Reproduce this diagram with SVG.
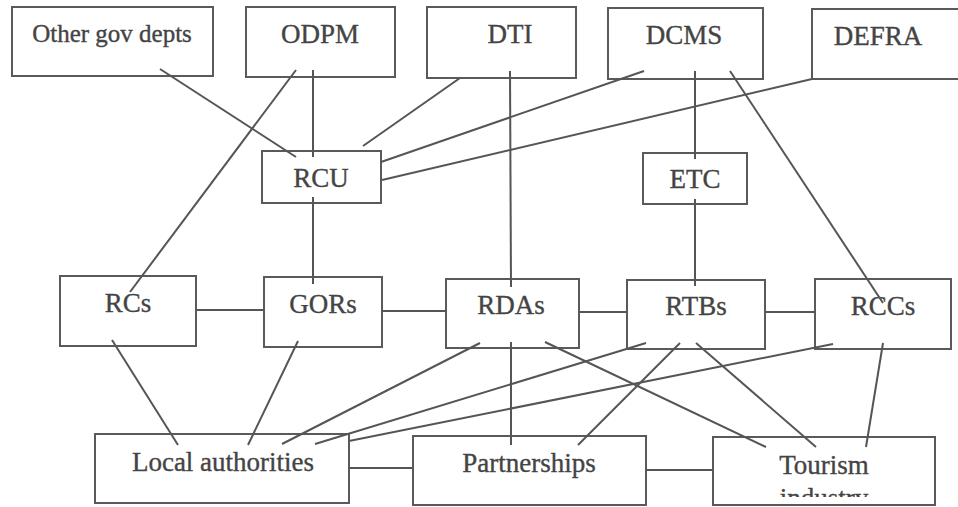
<svg xmlns="http://www.w3.org/2000/svg" width="958" height="507" viewBox="0 0 958 507">
<style>
.box{fill:#fff;stroke:#5a5a5a;stroke-width:2}
.lbl{font-family:"Liberation Serif","Times New Roman",serif;font-size:27px;fill:#444;stroke:#444;stroke-width:0.35;text-anchor:middle}
.con line{stroke:#555;stroke-width:2;fill:none}
</style>
<defs>
<clipPath id="tclip"><rect x="713" y="437" width="222" height="60"/></clipPath>
</defs>
<rect width="958" height="507" fill="#fff"/>
<g id="nodes">
<g id="other"><rect class="box" x="12" y="7" width="201" height="69"/><text class="lbl" x="112" y="42" style="font-size:25px">Other gov depts</text></g>
<g id="odpm"><rect class="box" x="246" y="7" width="149" height="70"/><text class="lbl" x="320" y="43">ODPM</text></g>
<g id="dti"><rect class="box" x="427" y="7" width="149" height="71"/><text class="lbl" x="510" y="43">DTI</text></g>
<g id="dcms"><rect class="box" x="608" y="8" width="155" height="71"/><text class="lbl" x="684" y="44">DCMS</text></g>
<g id="defra"><rect class="box" x="812" y="9" width="150" height="70"/><text class="lbl" x="878" y="45">DEFRA</text></g>
<g id="rcu"><rect class="box" x="262" y="151" width="119" height="52"/><text class="lbl" x="321" y="187">RCU</text></g>
<g id="etc"><rect class="box" x="643" y="153" width="104" height="51"/><text class="lbl" x="695" y="188">ETC</text></g>
<g id="rcs"><rect class="box" x="60" y="276" width="136" height="70"/><text class="lbl" x="128" y="312">RCs</text></g>
<g id="gors"><rect class="box" x="264" y="277" width="118" height="70"/><text class="lbl" x="323" y="313">GORs</text></g>
<g id="rdas"><rect class="box" x="446" y="279" width="133" height="69"/><text class="lbl" x="511" y="314">RDAs</text></g>
<g id="rtbs"><rect class="box" x="627" y="280" width="138" height="69"/><text class="lbl" x="696" y="315">RTBs</text></g>
<g id="rccs"><rect class="box" x="815" y="279" width="136" height="70"/><text class="lbl" x="883" y="315">RCCs</text></g>
<g id="local"><rect class="box" x="95" y="434" width="254" height="69"/><text class="lbl" x="223" y="471">Local authorities</text></g>
<g id="partnerships"><rect class="box" x="413" y="436" width="233" height="69"/><text class="lbl" x="529" y="472">Partnerships</text></g>
<g id="tourism"><rect class="box" x="713" y="437" width="222" height="68"/><text class="lbl" x="824" y="474">Tourism</text><text class="lbl" x="824" y="507" clip-path="url(#tclip)">industry</text></g>
</g>
<g id="connectors" class="con">
<line x1="160" y1="69" x2="296" y2="157"/>
<line x1="296" y1="70" x2="130" y2="292"/>
<line x1="313" y1="70" x2="313" y2="157"/>
<line x1="460" y1="78" x2="363" y2="146"/>
<line x1="644" y1="71" x2="381" y2="162"/>
<line x1="812" y1="79" x2="382" y2="180"/>
<line x1="510" y1="71" x2="511" y2="287"/>
<line x1="695" y1="71" x2="695" y2="159"/>
<line x1="730" y1="71" x2="883" y2="303"/>
<line x1="313" y1="197" x2="313" y2="284"/>
<line x1="695" y1="199" x2="695" y2="286"/>
<line x1="196" y1="310" x2="264" y2="310"/>
<line x1="382" y1="311" x2="446" y2="311"/>
<line x1="579" y1="312" x2="627" y2="312"/>
<line x1="765" y1="312" x2="815" y2="312"/>
<line x1="349" y1="468" x2="413" y2="468"/>
<line x1="646" y1="470" x2="713" y2="470"/>
<line x1="112" y1="340" x2="178" y2="445"/>
<line x1="298" y1="341" x2="248" y2="445"/>
<line x1="480" y1="343" x2="282" y2="444"/>
<line x1="646" y1="343" x2="315" y2="444"/>
<line x1="833" y1="344" x2="349" y2="441"/>
<line x1="511" y1="342" x2="511" y2="445"/>
<line x1="680" y1="343" x2="578" y2="445"/>
<line x1="545" y1="342" x2="766" y2="447"/>
<line x1="696" y1="343" x2="816" y2="447"/>
<line x1="883" y1="343" x2="866" y2="447"/>
</g>
</svg>
